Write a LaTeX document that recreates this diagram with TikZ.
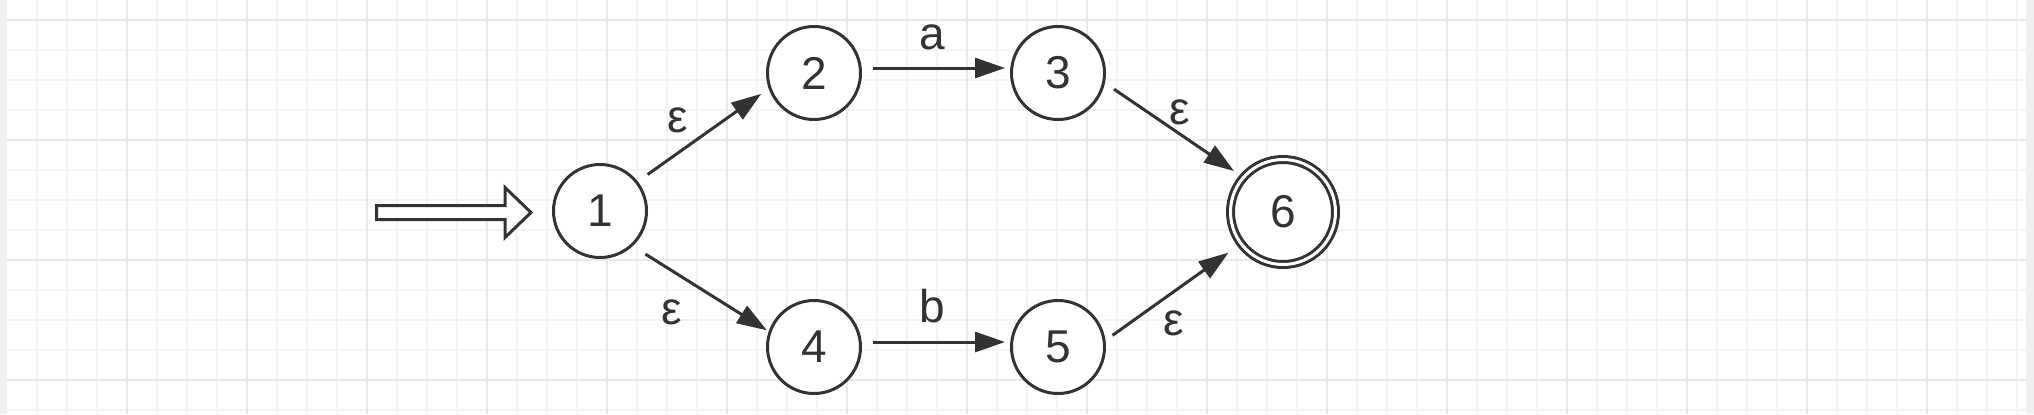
\documentclass[tikz,border=0pt]{standalone}
\usepackage{fontspec}
\setmainfont{Liberation Sans}
\usetikzlibrary{arrows.meta}

\definecolor{ink}{HTML}{333333}
\definecolor{gridmajor}{HTML}{E8E8E8}
\definecolor{gridminor}{HTML}{F3F3F3}
\definecolor{sidestrip}{HTML}{F0F0F0}

\begin{document}
\begin{tikzpicture}[x=0.5pt, y=-0.5pt,
    state/.style={circle, draw=ink, line width=1.5pt, fill=white, minimum size=46.5pt,
        inner sep=0pt, text=ink, font=\fontsize{23}{27}\selectfont},
    accept/.style={state, minimum size=52.5pt, double=white, double distance=1.5pt},
    trans/.style={draw=ink, line width=1.5pt, -{Triangle[length=15pt, width=10pt]}},
    lbl/.style={inner sep=0pt, text=ink, font=\fontsize{23}{27}\selectfont},
    minorline/.style={draw=gridminor, line width=1pt},
    majorline/.style={draw=gridmajor, line width=1pt}]

    \useasboundingbox (0,0) rectangle (2034,414);
    \fill[white] (0,0) rectangle (2034,414);
    \fill[sidestrip] (0,0) rectangle (7,414);
    \fill[sidestrip] (2026,0) rectangle (2034,414);

    \foreach \x in {37,67,...,2017}
        \draw[minorline] (\x,0) -- (\x,414);
    \foreach \y in {50,80,...,410}
        \draw[minorline] (7,\y) -- (2026,\y);
    \foreach \x in {127,247,...,1927}
        \draw[majorline] (\x,0) -- (\x,414);
    \foreach \y in {20,140,260,380}
        \draw[majorline] (7,\y) -- (2026,\y);

    \node[state] (n1) at (600,211) {1};
    \node[state] (n2) at (814,73) {2};
    \node[state] (n3) at (1058,73) {3};
    \node[state] (n4) at (814,347) {4};
    \node[state] (n5) at (1058,347) {5};
    \node[accept] (n6) at (1283,212) {6};

    \coordinate (entry) at (376.5,212.5);
    \draw[draw=ink, line width=1.5pt, fill=white, line join=miter] (entry) ++(0,-7)
        -- ++(128.5,0) -- ++(0,-18) -- ++(26,25) -- ++(-26,25)
        -- ++(0,-18) -- ++(-128.5,0) -- cycle;

    \draw[trans, shorten <=6pt, shorten >=4.5pt] (n1.38) -- (n2.199);
    \draw[trans, shorten <=7.5pt, shorten >=1pt] (n1.313) -- (n4.161);
    \draw[trans, shorten <=5.5pt, shorten >=2.5pt] ([yshift=2.5pt]n2.east) -- ([yshift=2.5pt]n3.west);
    \draw[trans, shorten <=5.5pt, shorten >=2.5pt] ([yshift=2.5pt]n4.east) -- ([yshift=2.5pt]n5.west);
    \draw[trans, shorten <=5.5pt, shorten >=5pt] (n3.348) -- (n6.139);
    \draw[trans, shorten <=4.3pt, shorten >=7pt] (n5.8) -- (n6.217);

    \node[lbl] (la) at (932,37) {a};
    \node[lbl] (lb) at (932,306.5) {b};
    \node[lbl] (e12) at (678,120) {ε};
    \node[lbl] (e14) at (672,312) {ε};
    \node[lbl] (e36) at (1180,112) {ε};
    \node[lbl] (e56) at (1174,323) {ε};
\end{tikzpicture}
\end{document}
